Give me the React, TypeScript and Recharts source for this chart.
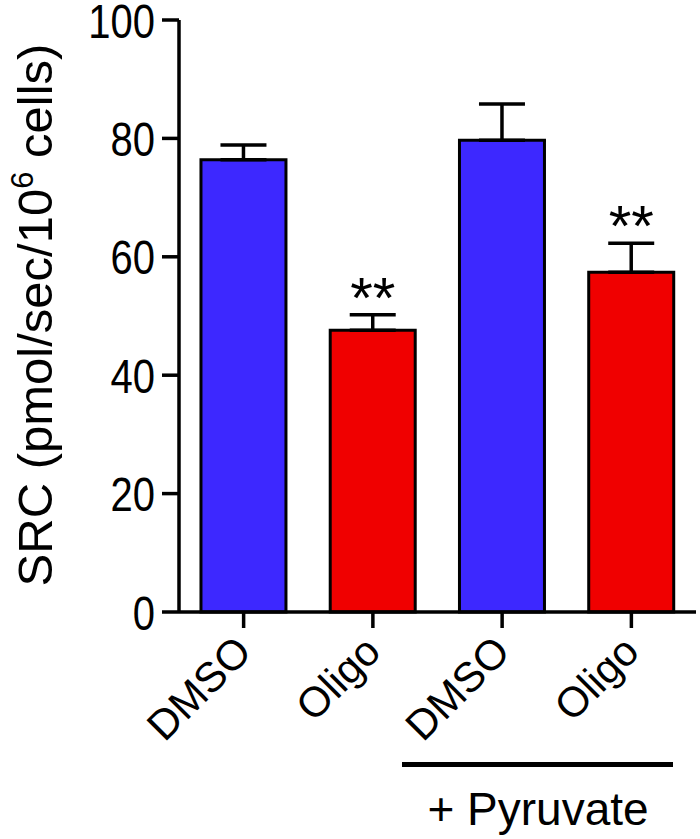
import { ComposedChart, Bar, Line, Cell, XAxis, YAxis, ErrorBar, LabelList } from "recharts";

const categories = ["DMSO", "Oligo", "DMSO", "Oligo"];
const means = [76.4, 47.6, 79.7, 57.4];
const sems = [2.5, 2.6, 6.1, 4.9];
const marks = ["", "**", "", "**"];
const barColors = ["#3d28ff", "#f00000", "#3d28ff", "#f00000"];
const yTicks = [0, 20, 40, 60, 80, 100];

const FONT = "'Liberation Sans', Arial, Helvetica, sans-serif";

const data = categories.map((name, i) => ({
  name,
  mean: means[i],
  err: [0, sems[i]],
  star: marks[i] ? means[i] + sems[i] : null,
  mark: marks[i],
}));

const XTick = ({ x, y, payload }: any) => {
  const px = x + 10;
  const py = y + 24;
  return (
    <text
      transform={`translate(${px},${py}) rotate(-45)`}
      textAnchor="end"
      fontSize={42}
      fontFamily={FONT}
      fill="#000"
    >
      {payload.value}
    </text>
  );
};

const YTick = ({ x, y, payload }: any) => (
  <text
    transform={`translate(${x},${y}) scale(1,1.22)`}
    textAnchor="end"
    dy="0.36em"
    fontSize={40}
    fontFamily={FONT}
    fill="#000"
  >
    {payload.value}
  </text>
);

const YLabel = () => (
  <text
    transform="translate(52,315) rotate(-90)"
    textAnchor="middle"
    fontSize={49}
    fontFamily={FONT}
    fill="#000"
  >
    <tspan>SRC (pmol/sec/10</tspan>
    <tspan fontSize={31} dy={-19}>6</tspan>
    <tspan dy={19}> cells)</tspan>
  </text>
);

const Stars = ({ x, y, value }: any) => {
  if (!value || y == null) return null;
  return (
    <text x={x} y={y + 3} textAnchor="middle" fontSize={58} fontFamily={FONT} fill="#000">
      {value}
    </text>
  );
};

export default function App() {
  return (
    <div style={{ position: "relative", width: 700, height: 839, background: "#fff" }}>
      <style>{"body{margin:0}"}</style>
      <ComposedChart
        width={700}
        height={839}
        data={data}
        margin={{ top: 20, right: 4, left: 0, bottom: 0 }}
        barCategoryGap="17%"
      >
        <XAxis
          dataKey="name"
          height={227}
          interval={0}
          tickSize={16}
          axisLine={{ stroke: "#000", strokeWidth: 3.5 }}
          tickLine={{ stroke: "#000", strokeWidth: 3.5 }}
          tick={<XTick />}
        />
        <YAxis
          width={179}
          domain={[0, 100]}
          ticks={yTicks}
          interval={0}
          tickSize={17}
          tickMargin={7}
          axisLine={{ stroke: "#000", strokeWidth: 3.5 }}
          tickLine={{ stroke: "#000", strokeWidth: 3.5 }}
          tick={<YTick />}
          label={<YLabel />}
        />
        <Bar dataKey="mean" stroke="#000" strokeWidth={3} isAnimationActive={false}>
          {data.map((_, i) => (
            <Cell key={i} fill={barColors[i]} />
          ))}
          <ErrorBar dataKey="err" width={23} stroke="#000" strokeWidth={3.5} direction="y" />
        </Bar>
        <Line
          dataKey="star"
          stroke="none"
          dot={false}
          activeDot={false}
          legendType="none"
          isAnimationActive={false}
        >
          <LabelList dataKey="mark" content={<Stars />} />
        </Line>
      </ComposedChart>
      <div
        style={{
          position: "absolute",
          left: 402,
          top: 762,
          width: 271,
          height: 5,
          background: "#000",
        }}
      />
      <div
        style={{
          position: "absolute",
          left: 388,
          top: 786,
          width: 300,
          textAlign: "center",
          fontSize: 46,
          lineHeight: "46px",
          fontFamily: FONT,
          color: "#000",
        }}
      >
        + Pyruvate
      </div>
    </div>
  );
}
